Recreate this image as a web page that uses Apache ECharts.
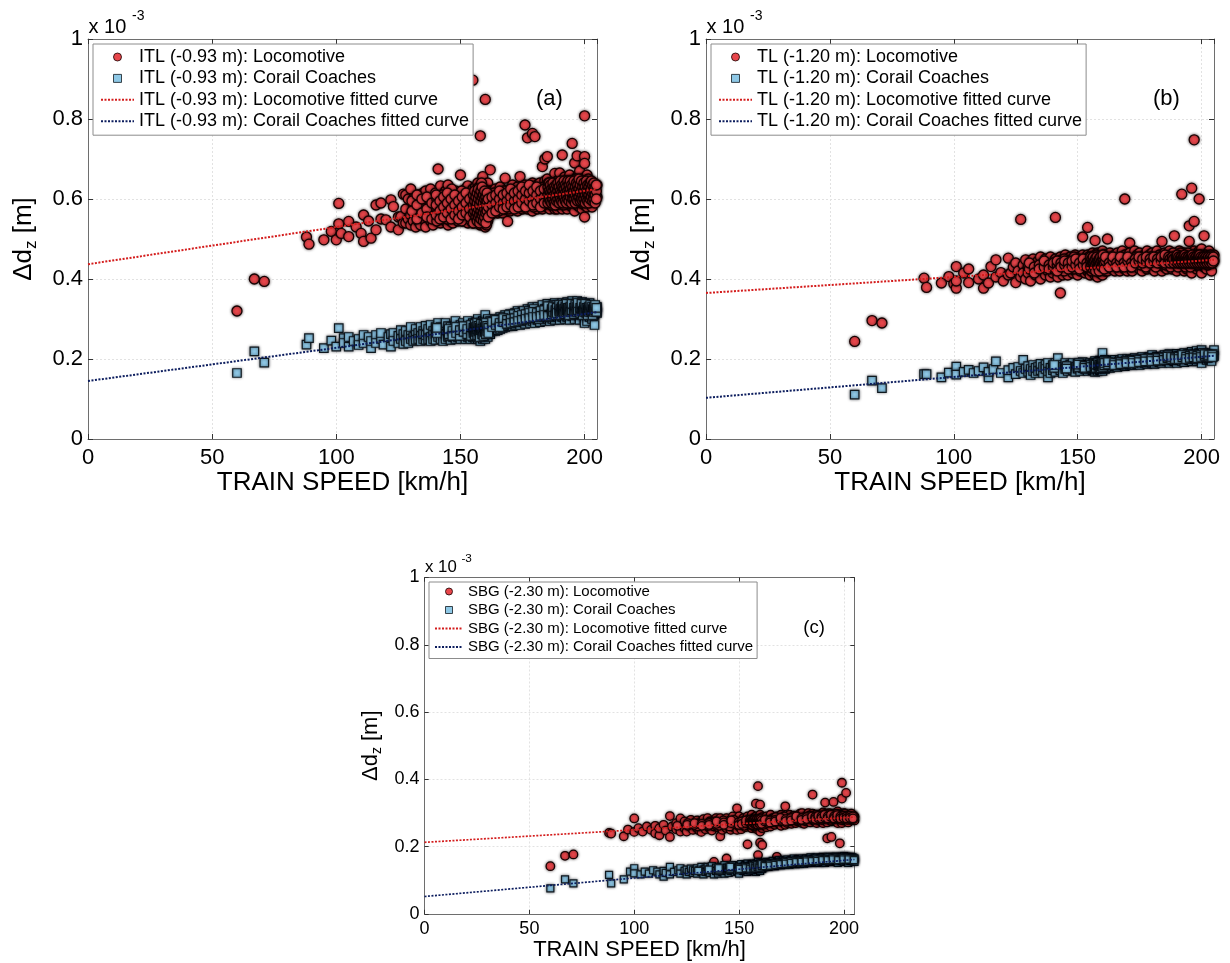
<!DOCTYPE html>
<html><head><meta charset="utf-8">
<script src="https://cdn.jsdelivr.net/npm/echarts@6/dist/echarts.min.js"></script>
<style>html,body{margin:0;padding:0;background:#fff}#c{width:1230px;height:963px}</style>
</head><body><div id="c"></div>
<script>
// Δd_z values in units of 1e-3 m (axis shows "x 10^-3"); speeds in km/h
// rows: [speed, value, value, ...]
const xTicks = [0, 50, 100, 150, 200];
const yTicks = [0, 0.2, 0.4, 0.6, 0.8, 1];

const itlLocoRows = [
[60,.32],[67,.40],[71,.394],[88,.505],[89,.487],[95,.498],[98,.519],[100,.498],[101,.589,.538],[102,.514],
[105,.544,.506],[108,.53],[110,.514],[111,.494,.56],[113,.545],[114,.502],[116,.585,.523],[118,.59,.55],[120,.548],
[122,.598,.53],[123,.581],[125,.523,.555],[126,.556],[127,.612,.54],
[128,.61,.575,.54],[129,.55,.60],[130,.625,.56,.535],[131,.585,.545,.60],[132,.57,.53,.595],[133,.56,.61,.545],
[134,.58,.535,.595],[135,.57,.615,.55],[136,.62,.545,.585,.53],[137,.56,.60,.575],[138,.545,.59,.625,.565],
[139,.58,.535,.60],[140,.565,.615,.55,.59],[141,.675,.585,.545,.60],[142,.633,.57,.54,.595],[143,.58,.605,.555],
[144,.545,.59,.62,.565],[145,.635,.575,.535,.60],[146,.56,.59,.615,.545],[147,.58,.60,.54,.565],[148,.595,.555,.62,.575],
[149,.57,.61,.545,.59],[150,.66,.58,.55,.60,.565],[151,.59,.615,.545,.57],[152,.575,.60,.55,.625],[153,.633,.56,.59,.54,.605],
[154,.58,.615,.555,.595],[155,.897,.57,.60,.54,.625,.585],[156,.56,.595,.61,.545,.575,.63],[157,.585,.55,.62,.57,.60,.54,.64],
[158,.758,.57,.605,.545,.59,.625,.56,.535],[159,.656,.58,.55,.615,.595,.565,.63,.54],[160,.849,.575,.60,.545,.625,.56,.59,.53,.61],
[161,.585,.565,.62,.545,.60,.64],[162,.673,.58,.60,.56,.62],[163,.59,.565,.61,.58],[164,.57,.60,.625,.585],
[165,.595,.565,.615,.58],[166,.60,.575,.63,.59],[167,.585,.61,.565,.60],[168,.652,.59,.62,.575],[169,.544,.60,.58,.615],
[170,.595,.57,.625,.61],[171,.58,.605,.59,.635],[172,.60,.575,.62,.59],[173,.61,.585,.63,.57],[174,.656,.595,.615,.58],
[175,.60,.575,.625,.59],[176,.785,.61,.585,.635],[177,.753,.595,.62,.575],[178,.605,.58,.63,.615],[179,.764,.59,.615,.57,.64],
[180,.756,.60,.625,.585,.61],[181,.595,.635,.575,.615],[182,.61,.585,.64,.60],[183,.681,.595,.625,.575],[184,.70,.615,.59,.645,.60],
[185,.706,.60,.625,.58,.65],[186,.61,.59,.635,.575,.62],[187,.60,.64,.585,.615],[188,.664,.595,.625,.575,.605],
[189,.615,.59,.645,.60,.575],[190,.665,.60,.63,.585,.615],[191,.71,.595,.62,.575,.64,.605],[192,.61,.585,.635,.60,.655],
[193,.62,.595,.575,.645,.605],[194,.605,.63,.585,.615,.66],[195,.739,.60,.625,.58,.645,.61],[196,.69,.615,.59,.635,.57,.60],
[197,.708,.605,.625,.585,.655,.615],[198,.62,.595,.64,.58,.61,.67],[199,.605,.63,.59,.65,.575,.615],
[200,.808,.706,.689,.555,.62,.60,.64,.585,.61],[201,.615,.595,.635,.58,.66],[202,.60,.625,.59,.645,.61],
[203,.62,.60,.58,.635],[204,.61,.595,.63],[205,.635,.605]
];
const itlLocoDense = [
[130.5,.57,.595],[132.5,.55,.585,.61],[134.5,.565,.60],[136.5,.575,.555,.605],[138.5,.59,.55],[140.5,.575,.60,.545],
[142.5,.56,.585,.61],[144.5,.575,.60,.55],[146.5,.57,.595,.625],[148.5,.585,.56,.605],[150.5,.575,.595,.545,.62],
[152.5,.565,.585,.61],[154.5,.57,.59,.605,.545],[155.5,.58,.555,.61,.595],[156.5,.565,.59,.62,.545],[157.5,.575,.60,.555,.63],
[158.5,.58,.61,.55,.595,.64],[159.5,.57,.60,.545,.625,.585],[160.5,.58,.555,.615,.595,.535],[161.5,.57,.61,.59],
[163.5,.595,.575,.615],[165.5,.585,.605,.57],[167.5,.595,.62,.58],[169.5,.59,.61,.575],[171.5,.595,.615,.58],
[173.5,.60,.62,.585],[175.5,.595,.615,.58],[177.5,.60,.625,.59],[179.5,.605,.58,.63],[181.5,.60,.62,.59],
[183.5,.61,.585,.63],[185.5,.595,.615,.64],[186.5,.605,.625,.585],[187.5,.62,.595,.635],[188.5,.61,.585,.63],
[189.5,.60,.625,.59],[190.5,.615,.64,.595],[191.5,.605,.63,.585],[192.5,.62,.60,.645],[193.5,.61,.59,.635],
[194.5,.625,.60,.645],[195.5,.615,.595,.635],[196.5,.605,.625,.65],[197.5,.62,.60,.64],[198.5,.61,.63,.59],
[199.5,.625,.60,.645],[200.5,.615,.595,.635],[201.5,.605,.625,.65],[202.5,.615,.595,.635],[203.5,.61,.625],[204.5,.62,.60]
];
const itlLocoCore = [
[140.25,.56,.585,.61],[141.75,.57,.595,.55],[143.25,.58,.555,.605],[144.75,.565,.59,.615],[146.25,.575,.55,.60],
[147.75,.585,.56,.61],[149.25,.57,.595,.55],[150.75,.58,.605,.56],[152.25,.59,.565,.615],[153.75,.575,.60,.555],
[155.25,.585,.61,.565,.54],[155.75,.57,.595,.62],[156.25,.58,.555,.605],[156.75,.59,.565,.615,.545],[157.25,.575,.60,.555,.625],
[157.75,.585,.56,.61,.54],[158.25,.57,.595,.62,.55],[158.75,.58,.605,.56,.63],[159.25,.59,.565,.61,.545],[159.75,.575,.60,.555,.62],
[160.25,.585,.565,.605,.54],[160.75,.57,.595,.615],[161.25,.58,.555,.60],[162.75,.585,.605,.565],[164.25,.59,.57,.61],
[165.75,.58,.60,.62],[167.25,.59,.575,.61],[168.75,.595,.615,.58],[170.25,.585,.605,.625],[171.75,.595,.575,.615],
[173.25,.60,.58,.62],[174.75,.59,.61,.63],[176.25,.60,.58,.62],[177.75,.595,.615,.635],[179.25,.60,.585,.62],
[180.75,.61,.59,.63],[182.25,.60,.62,.58],[183.75,.605,.625,.59],[185.25,.61,.59,.63],[185.75,.60,.62,.64],
[186.25,.595,.615,.635],[186.75,.61,.59,.625],[187.25,.60,.62,.64],[187.75,.59,.61,.63],[188.25,.605,.625,.585],
[188.75,.615,.595,.635],[189.25,.60,.62,.64],[189.75,.61,.59,.63],[190.25,.60,.62,.645],[190.75,.595,.615,.635],
[191.25,.61,.63,.59],[191.75,.605,.625,.645],[192.25,.595,.615,.635],[192.75,.61,.63,.59],[193.25,.60,.62,.645],
[193.75,.615,.595,.635],[194.25,.605,.625,.645],[194.75,.59,.615,.635],[195.25,.61,.63,.60],[195.75,.62,.60,.645],
[196.25,.61,.63,.59],[196.75,.60,.62,.64],[197.25,.615,.595,.635],[197.75,.605,.625,.65],[198.25,.615,.595,.635],
[198.75,.60,.62,.645],[199.25,.61,.63,.595],[199.75,.62,.60,.64],[200.25,.61,.63,.59],[200.75,.60,.62,.645],
[201.25,.615,.635,.595],[201.75,.61,.63,.59],[202.25,.62,.60,.64],[202.75,.605,.625,.645],[203.25,.615,.595,.635],
[203.75,.60,.62,.64],[204.25,.61,.63,.59],[204.75,.62,.60,.635]
];
const itlCoachRows = [
[60,.165],[67,.219],[71,.191],[88,.236],[89,.252],[95,.227],[98,.246],[100,.231],[101,.277],[103,.252,.24],
[105,.231,.255],[107,.245],[109,.25,.235],[111,.24,.26],[113,.255],[114,.227,.245],[116,.26,.24],[118,.25,.265],
[119,.236],[121,.255],[122,.231,.262],[123,.265,.245],[125,.24,.258],[126,.25,.272],[127,.262,.238],
[128,.255,.27,.245],[129,.26,.24],[130,.268,.25,.28],[131,.255,.245],[132,.275,.26,.248],[133,.265,.25],
[134,.258,.28,.245],[135,.27,.25,.262],[136,.248,.283,.26],[137,.265,.25,.275],[138,.255,.285,.245],[139,.27,.26,.25],
[140,.262,.28,.248],[141,.255,.272,.29],[142,.265,.25,.28],[143,.275,.258,.245],[144,.262,.29,.25],[145,.27,.255,.282],
[146,.26,.28,.248],[147,.272,.255,.265],[148,.295,.26,.25,.28],[149,.265,.275,.255],[150,.26,.285,.25,.27],
[151,.275,.258,.29],[152,.265,.25,.28],[153,.27,.255,.295,.262],[154,.28,.26,.25],[155,.265,.29,.255,.275],
[156,.27,.25,.285,.26],[157,.30,.26,.275,.25,.285],[158,.265,.29,.255,.278,.245],[159,.272,.25,.295,.262,.285],
[160,.31,.26,.28,.25,.27,.29],[161,.275,.255,.30,.265],[162,.28,.262,.295],[163,.27,.29,.28],[164,.285,.27,.30],
[165,.28,.295,.272],[166,.29,.275,.305],[167,.285,.30,.278],[168,.295,.28,.31],[169,.29,.302,.282],[170,.30,.285,.312],
[171,.29,.305,.282],[172,.298,.315,.285],[173,.305,.29,.32],[174,.295,.31,.285],[175,.305,.292,.318],[176,.30,.315,.288],
[177,.31,.295,.325],[178,.302,.32,.29],[179,.31,.295,.33],[180,.305,.322,.29],[181,.312,.298,.33],[182,.305,.32,.292],
[183,.315,.30,.335],[184,.308,.325,.295],[185,.318,.30,.338,.31],[186,.305,.322,.295],[187,.315,.33,.30],
[188,.31,.325,.298,.34],[189,.32,.305,.335],[190,.31,.328,.298],[191,.322,.305,.34,.315],[192,.312,.33,.30],
[193,.325,.305,.342,.315],[194,.31,.33,.298],[195,.322,.308,.345,.315],[196,.315,.335,.30],[197,.328,.31,.345,.32],
[198,.305,.325,.338,.298],[199,.32,.31,.342,.33],[200,.315,.30,.335,.325,.29],[201,.31,.33,.32,.295],
[202,.325,.305,.34],[203,.315,.30,.33],[204,.32,.31,.285],[205,.33,.315]
];
const itlCoachDense = [
[140.5,.265,.278],[145.5,.268,.258],[149.5,.27,.26,.28],[151.5,.265,.275],[153.5,.26,.28],[154.5,.27,.285],
[155.5,.262,.278],[156.5,.275,.255,.29],[157.5,.268,.282],[158.5,.26,.275,.29],[159.5,.27,.285,.258],[160.5,.275,.262,.29],
[161.5,.28,.268],[163.5,.282,.295],[165.5,.288,.30],[167.5,.29,.305],[169.5,.295,.31],[171.5,.298,.312],[173.5,.30,.315],
[175.5,.305,.32],[177.5,.308,.32],[179.5,.31,.325],[181.5,.315,.30],[183.5,.318,.305],[185.5,.315,.33,.305],
[186.5,.32,.31],[187.5,.318,.335],[188.5,.31,.325],[189.5,.322,.312],[190.5,.318,.335],[191.5,.31,.325],
[192.5,.322,.338],[193.5,.315,.33],[194.5,.322,.312],[195.5,.33,.318],[196.5,.325,.31],[197.5,.335,.318],
[198.5,.32,.33],[199.5,.315,.328],[200.5,.325,.31],[201.5,.32,.335],[202.5,.315,.328],[203.5,.322,.31],[204.5,.318,.33]
];
const itlCoachCore = [
[145.25,.262,.275],[146.75,.27,.258],[148.25,.265,.28],[149.75,.258,.272],[151.25,.268,.282],[152.75,.262,.275],
[154.25,.27,.258,.285],[155.25,.265,.278],[155.75,.272,.26,.288],[156.25,.268,.28],[156.75,.26,.275,.29],[157.25,.27,.283],
[157.75,.265,.278,.255],[158.25,.272,.288],[158.75,.262,.276],[159.25,.27,.285,.258],[159.75,.268,.28],[160.25,.275,.262,.29],
[160.75,.27,.283],[161.25,.278,.265],[162.75,.28,.293],[164.25,.285,.298],[165.75,.29,.28],[167.25,.292,.302],
[168.75,.298,.288],[170.25,.30,.29],[171.75,.302,.292],[173.25,.308,.295],[174.75,.31,.298],[176.25,.312,.30],
[177.75,.315,.302],[179.25,.318,.305],[180.75,.315,.305],[182.25,.32,.308],[183.75,.322,.31],[185.25,.32,.308,.332],
[186.75,.325,.312],[187.25,.318,.33],[188.25,.322,.31],[188.75,.328,.315],[189.75,.32,.335],[190.25,.325,.31],
[190.75,.33,.318],[191.25,.32,.335],[191.75,.325,.312],[192.25,.33,.318],[192.75,.322,.338],[193.25,.315,.328],
[193.75,.325,.31],[194.25,.33,.318],[194.75,.322,.338],[195.75,.328,.312],[196.25,.32,.335],[196.75,.33,.318],
[197.25,.322,.34],[198.25,.315,.328],[198.75,.325,.338],[199.25,.32,.31],[199.75,.33,.318],[200.25,.322,.338],
[200.75,.315,.328],[201.25,.325,.31],[201.75,.33,.318],[202.25,.322,.335],[202.75,.318,.33],[203.25,.325,.31],
[203.75,.33,.318],[204.25,.322,.335],[204.75,.318,.328]
];
const tlLocoRows = [
[60,.244],[67,.296],[71,.29],[88,.402],[89,.379],[95,.39],[98,.406],[100,.388],[101,.431,.377,.395],[104,.415],
[106,.391,.425],[110,.40],[112,.377,.41],[114,.39],[115,.431],[117,.448,.405],[119,.416],[120,.395],[122,.452,.41],
[123,.415],[124,.43],[125,.391,.44],[126,.42],[127,.549,.405],[128,.435,.415],[129,.448,.40],[130,.43,.415],
[131,.44,.395],[132,.425,.45],[133,.41,.435],[134,.445,.42],[135,.40,.43,.455],[136,.42,.44],[137,.435,.41,.45],
[138,.42,.445],[139,.43,.405,.455],[140,.415,.44],[141,.554,.43,.45],[142,.42,.44,.405],[143,.365,.435,.455],
[144,.425,.445,.41],[145,.435,.42,.46],[146,.44,.41,.45],[147,.425,.455,.435],[148,.415,.445,.43],[149,.44,.42,.46],
[150,.43,.45,.41,.44],[151,.42,.455,.435],[152,.505,.44,.425,.46],[153,.43,.45,.415],[154,.529,.44,.42,.46],
[155,.425,.45,.435,.41],[156,.445,.42,.465,.43],[157,.496,.435,.41,.455,.44],[158,.42,.45,.43,.465,.405],
[159,.44,.415,.46,.43,.45],[160,.425,.455,.44,.41,.47,.435],[161,.445,.42,.46,.43],[162,.50,.435,.455,.42],
[163,.445,.43,.465],[164,.425,.45,.44],[165,.435,.46,.42],[166,.45,.43,.465],[167,.44,.42,.455],[168,.43,.45,.47],
[169,.60,.44,.425,.46],[170,.435,.455,.42],[171,.49,.445,.43,.465],[172,.44,.42,.455],[173,.45,.435,.47],
[174,.43,.46,.44],[175,.445,.425,.465],[176,.44,.455,.42],[177,.46,.435,.45],[178,.425,.445,.47],[179,.45,.43,.46],
[180,.44,.465,.425,.455],[181,.435,.45,.42],[182,.455,.44,.47],[183,.43,.46,.445],[184,.494,.44,.42,.455],
[185,.45,.43,.465],[186,.44,.46,.425],[187,.455,.435,.47],[188,.445,.425,.46],[189,.508,.44,.455,.43],
[190,.45,.465,.42,.44],[191,.435,.455,.47],[192,.612,.445,.43,.46],[193,.45,.42,.465,.44],[194,.435,.455,.425],
[195,.533,.494,.46,.44,.45],[196,.627,.43,.465,.445,.415],[197,.748,.544,.45,.435,.47],[198,.44,.46,.425,.455],
[199,.60,.445,.43,.47],[200,.45,.435,.46,.415,.475],[201,.508,.44,.455,.43],[202,.46,.445,.425],[203,.435,.455,.47],
[204,.45,.44,.42],[205,.46,.445]
];
const tlLocoDense = [
[130.5,.425,.44],[132.5,.43,.415],[134.5,.435,.425],[136.5,.43,.445],[138.5,.435,.425],[140.5,.44,.425],
[142.5,.43,.445],[144.5,.435,.42,.45],[146.5,.43,.445],[148.5,.44,.425,.455],[150.5,.435,.45],[152.5,.43,.445],
[154.5,.44,.425,.455],[155.5,.435,.45,.42],[156.5,.44,.43,.455],[157.5,.445,.425,.46],[158.5,.435,.45,.42],
[159.5,.44,.455,.43],[160.5,.445,.43,.46],[161.5,.435,.45],[163.5,.44,.455],[165.5,.445,.43],[167.5,.44,.455],
[169.5,.435,.45],[171.5,.445,.43],[173.5,.44,.455],[175.5,.435,.45],[177.5,.445,.43],[179.5,.44,.455],
[181.5,.445,.43],[183.5,.44,.455],[185.5,.45,.435],[186.5,.44,.455],[187.5,.445,.43],[188.5,.45,.465],
[189.5,.44,.455],[190.5,.445,.43],[191.5,.45,.465],[192.5,.44,.455],[193.5,.445,.43],[194.5,.45,.465],
[195.5,.445,.43],[196.5,.455,.44],[197.5,.445,.46],[198.5,.45,.435],[199.5,.445,.46],[200.5,.455,.44],
[201.5,.445,.46],[202.5,.45,.435],[203.5,.445,.46],[204.5,.45,.44]
];
const tlLocoCore = [
[140.25,.43,.44],[141.75,.435,.445,.42],[143.25,.44,.43],[144.75,.435,.445],[146.25,.44,.425],[147.75,.43,.445],
[149.25,.435,.45],[150.75,.44,.425],[152.25,.435,.45],[153.75,.44,.43],[155.25,.445,.43,.455],[155.75,.435,.45],
[156.25,.44,.425,.455],[156.75,.445,.43],[157.25,.435,.45,.42],[157.75,.44,.455],[158.25,.445,.43],[158.75,.435,.45,.42],
[159.25,.44,.455],[159.75,.445,.43],[160.25,.435,.45,.46],[160.75,.44,.425],[161.25,.445,.455],[162.75,.44,.43],
[164.25,.445,.455],[165.75,.44,.43],[167.25,.445,.455],[168.75,.44,.43],[170.25,.445,.455],[171.75,.44,.43],
[173.25,.45,.44],[174.75,.445,.455],[176.25,.44,.45],[177.75,.445,.455],[179.25,.45,.44],[180.75,.445,.455],
[182.25,.45,.44],[183.75,.445,.455],[185.25,.45,.44,.46],[186.75,.445,.455],[187.25,.45,.44],[188.25,.455,.445],
[188.75,.44,.45],[189.75,.455,.445],[190.25,.45,.44,.46],[190.75,.445,.455],[191.25,.45,.44],[191.75,.455,.445],
[192.25,.44,.45],[192.75,.455,.445],[193.25,.45,.44,.46],[193.75,.445,.455],[194.25,.45,.44],[194.75,.455,.445],
[195.25,.44,.45],[195.75,.455,.445],[196.25,.45,.44,.46],[196.75,.445,.455],[197.25,.45,.44],[197.75,.455,.445],
[198.25,.44,.45],[198.75,.455,.445],[199.25,.45,.44,.46],[199.75,.445,.455],[200.25,.45,.44],[200.75,.455,.445],
[201.25,.44,.45],[201.75,.455,.445],[202.25,.45,.44],[202.75,.445,.455],[203.25,.45,.44],[203.75,.455,.445],
[204.25,.44,.45],[204.75,.455,.445]
];
const tlCoachRows = [
[60,.111],[67,.146],[71,.127],[88,.162],[89,.162],[95,.154],[98,.166],[101,.181,.161],[104,.168],[106,.173],
[108,.165],[110,.17],[112,.179],[114,.154,.168],[116,.175],[117,.194],[119,.165],[122,.154,.172],[124,.178],
[125,.162],[126,.18],[127,.17],[128,.198,.165],[129,.175],[130,.168,.182],[131,.175,.16],[132,.185,.17],
[133,.165,.178],[134,.18,.17],[135,.172,.188],[136,.165,.18],[137,.185,.175],[138,.154,.17,.19],[139,.178,.165],
[140,.185,.172],[141,.168,.19],[142,.202,.178],[143,.172,.185],[144,.18,.165],[145,.19,.175],[146,.17,.183],
[147,.186,.176],[148,.172,.19],[149,.18,.168],[150,.188,.176],[151,.17,.185],[152,.192,.178],[153,.175,.186],
[154,.182,.17],[155,.19,.178],[156,.172,.186],[157,.195,.18,.168],[158,.178,.19,.17],[159,.185,.172,.196],
[160,.215,.18,.19,.17],[161,.186,.175,.198],[162,.18,.192],[163,.188,.178],[164,.195,.183],[165,.186,.198],
[166,.19,.18],[167,.197,.186],[168,.185,.20],[169,.192,.182],[170,.20,.188],[171,.186,.197],[172,.195,.185],
[173,.202,.19],[174,.188,.198],[175,.196,.185],[176,.205,.192],[177,.19,.20],[178,.198,.188],[179,.205,.193],
[180,.19,.20,.21],[181,.197,.188],[182,.206,.195],[183,.192,.203],[184,.20,.19],[185,.21,.197],[186,.195,.205],
[187,.202,.19,.212],[188,.197,.207],[189,.205,.194],[190,.20,.213,.19],[191,.207,.197],[192,.195,.21],
[193,.203,.215,.192],[194,.20,.209],[195,.212,.197],[196,.205,.218,.194],[197,.20,.21],[198,.208,.195,.22],
[199,.202,.215],[200,.21,.198,.222,.19],[201,.205,.215],[202,.198,.21],[203,.213,.20],[204,.205,.195],[205,.222,.208]
];
const tlCoachDense = [
[140.5,.178,.185],[145.5,.182,.176],[150.5,.18,.19],[153.5,.182,.175],[155.5,.185,.178],[156.5,.18,.19],
[157.5,.186,.176],[158.5,.182,.192],[159.5,.178,.188],[160.5,.185,.195],[161.5,.18,.19],[163.5,.19,.185],
[166.5,.192,.186],[169.5,.195,.188],[172.5,.198,.19],[175.5,.20,.192],[178.5,.202,.195],[181.5,.203,.196],
[184.5,.205,.198],[186.5,.20,.21],[188.5,.203,.198],[190.5,.206,.20],[192.5,.208,.20],[194.5,.205,.212],
[196.5,.21,.20],[198.5,.212,.204],[200.5,.208,.215],[202.5,.21,.203],[204.5,.212,.205]
];
const tlCoachCore = [
[150.25,.18,.186],[152.75,.183,.178],[155.25,.185,.18],[156.75,.182,.188],[157.25,.178,.186],[158.25,.184,.19],
[158.75,.18,.186],[159.25,.186,.178],[159.75,.182,.19],[160.25,.188,.18],[160.75,.184,.19],[162.25,.186,.192],
[164.75,.19,.185],[167.25,.192,.187],[169.75,.194,.19],[172.25,.196,.19],[174.75,.198,.192],[177.25,.20,.194],
[179.75,.20,.195],[182.25,.202,.196],[184.75,.204,.198],[186.25,.202,.206],[187.75,.20,.205],[189.25,.204,.20],
[190.75,.206,.20],[192.25,.204,.21],[193.75,.206,.20],[195.25,.208,.203],[196.75,.21,.204],[198.25,.208,.202],
[199.75,.21,.205],[201.25,.208,.212],[202.75,.206,.21],[204.25,.21,.205]
];
const sbgLocoRows = [
[60,.142],[67,.173],[71,.177],[88,.241],[89,.239],[95,.231],[97,.251],[100,.284,.244],[102,.255],[104,.245],
[106,.26],[108,.25],[110,.262,.24],[112,.234,.255],[114,.265],[115,.248],[117,.291,.229],[118,.26],[120,.252,.27],
[122,.284,.245],[123,.262],[124,.255,.275],[125,.245],[126,.268],[127,.258,.28],[128,.25],[129,.272,.262],
[130,.255,.278],[131,.265,.248],[132,.244,.275],[133,.26,.282],[134,.27,.252],[135,.262,.285],[136,.255,.275],
[137,.268,.248],[138,.155,.278,.26],[139,.27,.285],[140,.258,.275],[141,.231,.268,.285],[142,.26,.25],
[143,.275,.265],[144,.165,.285,.255],[145,.27,.26],[146,.28,.25],[147,.265,.29],[148,.255,.275],[149,.314,.268,.25],
[150,.28,.26,.29],[151,.27,.252],[152,.285,.265],[153,.258,.278],[154,.207,.27,.29],[155,.262,.28],
[156,.272,.255,.295],[157,.265,.285],[158,.328,.255,.275,.29],[159,.38,.175,.268,.25,.285],
[160,.325,.212,.275,.26,.295,.245],[161,.205,.27,.288,.255],[162,.265,.28],[163,.275,.258,.29],[164,.268,.282],
[165,.26,.278,.295],[166,.272,.285],[167,.265,.28],[168,.17,.275,.29],[169,.268,.285],[170,.28,.262,.295],
[171,.272,.288],[172,.32,.265,.28],[173,.285,.27],[174,.275,.295],[175,.268,.285],[176,.28,.292],[177,.27,.288],
[178,.285,.275],[179,.278,.298],[180,.27,.285,.30],[181,.282,.268],[182,.29,.275],[183,.28,.30],[184,.272,.288],
[185,.355,.282,.298],[186,.275,.29],[187,.285,.27],[188,.295,.28],[189,.275,.29],[190,.285,.302,.27],
[191,.331,.28,.295],[192,.225,.29,.272],[193,.282,.30],[194,.229,.29,.275],[195,.333,.283,.298],[196,.275,.29],
[197,.288,.27,.305],[198,.21,.28,.295],[199,.39,.343,.285,.27],[200,.29,.278,.30],[201,.36,.282,.295],
[202,.288,.272],[203,.295,.28],[204,.294,.285],[205,.29,.278]
];
const sbgLocoDense = [
[120.5,.262],[125.5,.262,.27],[130.5,.268,.26],[135.5,.27,.262],[138.5,.265,.275],[140.5,.27,.262],[142.5,.268,.278],
[145.5,.272,.26],[147.5,.268,.28],[150.5,.272,.265],[152.5,.275,.262],[154.5,.27,.28],[155.5,.275,.265],
[156.5,.27,.28],[157.5,.275,.262],[158.5,.27,.282],[159.5,.276,.265],[160.5,.28,.27],[161.5,.275,.265],
[163.5,.278,.27],[165.5,.28,.272],[167.5,.278,.288],[169.5,.282,.275],[171.5,.28,.29],[173.5,.282,.275],
[175.5,.285,.278],[177.5,.28,.29],[179.5,.285,.278],[181.5,.288,.28],[183.5,.285,.292],[185.5,.288,.28],
[186.5,.285,.295],[187.5,.29,.28],[188.5,.285,.292],[189.5,.288,.28],[190.5,.292,.283],[191.5,.288,.298],
[192.5,.285,.292],[193.5,.29,.28],[194.5,.285,.295],[195.5,.29,.282],[196.5,.288,.298],[197.5,.285,.292],
[198.5,.29,.28],[199.5,.295,.285],[200.5,.288,.298],[201.5,.29,.28],[202.5,.292,.285],[203.5,.288,.298],[204.5,.29,.282]
];
const sbgLocoCore = [
[125.25,.265],[128.75,.265,.27],[132.25,.268,.262],[135.75,.27,.265],[139.25,.268,.275],[142.75,.272,.265],
[146.25,.27,.278],[149.75,.272,.265],[151.25,.275,.268],[153.25,.27,.278],[155.25,.273,.28],[155.75,.268,.276],
[156.25,.275,.265],[156.75,.278,.27],[157.25,.272,.28],[157.75,.276,.268],[158.25,.272,.28],[158.75,.275,.266],
[159.25,.272,.28],[159.75,.276,.268],[160.25,.272,.282],[160.75,.278,.268],[162.25,.275,.28],[164.75,.278,.272],
[167.25,.28,.275],[169.75,.28,.286],[172.25,.282,.276],[174.75,.285,.278],[177.25,.283,.29],[179.75,.285,.28],
[182.25,.288,.282],[184.75,.285,.29],[186.25,.288,.282],[187.75,.285,.292],[189.25,.29,.284],[190.75,.287,.295],
[192.25,.29,.284],[193.75,.288,.295],[195.25,.29,.284],[196.75,.287,.294],[198.25,.29,.284],[199.75,.292,.286],
[201.25,.29,.284],[202.75,.292,.286],[204.25,.29,.284]
];
const sbgCoachRows = [
[60,.076],[67,.103],[71,.091],[88,.116],[89,.091],[95,.103],[98,.126],[100,.136,.121],[103,.118],[105,.126],
[107,.12],[109,.13],[111,.126],[112,.118],[114,.111,.128],[115,.122],[117,.14,.118],[119,.125],[121,.13],
[122,.136,.12],[124,.128],[125,.118,.132],[126,.125],[127,.135],[128,.122,.13],[129,.128],[130,.12,.136],
[131,.13],[132,.125,.14],[133,.118,.132],[134,.135,.125],[135,.128,.14],[136,.122,.135],[137,.13,.142],
[138,.125,.118],[139,.138,.128],[140,.132,.12],[141,.14,.127],[142,.125,.135],[143,.133,.12,.145],[144,.128,.138],
[145,.122,.135],[146,.14,.128],[147,.132,.145],[148,.125,.138],[149,.135,.128],[150,.142,.13,.12],[151,.135,.148],
[152,.128,.14],[153,.145,.132],[154,.138,.125,.15],[155,.142,.13],[156,.135,.148],[157,.13,.145,.14],
[158,.15,.135,.125],[159,.142,.155,.132],[160,.138,.15,.128,.145],[161,.145,.135],[162,.15,.14],[163,.145,.155],
[164,.14,.15],[165,.152,.145],[166,.145,.158],[167,.15,.142],[168,.155,.147],[169,.148,.16],[170,.155,.145],
[171,.15,.16],[172,.158,.148],[173,.152,.162],[174,.147,.157],[175,.16,.15],[176,.153,.165],[177,.158,.148],
[178,.152,.163],[179,.16,.15],[180,.155,.165],[181,.16,.15],[182,.165,.155],[183,.152,.162],[184,.158,.168],
[185,.162,.152],[186,.155,.165],[187,.168,.158],[188,.16,.152],[189,.165,.157],[190,.155,.17,.16],[191,.162,.152],
[192,.168,.158],[193,.155,.165],[194,.16,.17],[195,.165,.155],[196,.158,.17,.162],[197,.165,.152],[198,.17,.16],
[199,.158,.168],[200,.165,.155,.172],[201,.16,.17],[202,.165,.152],[203,.17,.158],[204,.162,.168],[205,.165,.155]
];
const sbgCoachDense = [
[130.5,.128],[135.5,.132],[140.5,.135,.128],[145.5,.132,.14],[150.5,.138,.13],[152.5,.14,.132],[154.5,.142,.135],
[155.5,.138,.13],[156.5,.142,.135],[157.5,.138,.148],[158.5,.142,.135],[159.5,.145,.138],[160.5,.14,.135],
[161.5,.148,.14],[163.5,.15,.145],[166.5,.152,.148],[169.5,.155,.15],[172.5,.155,.152],[175.5,.158,.155],
[178.5,.16,.155],[181.5,.16,.155],[184.5,.162,.158],[186.5,.16,.165],[188.5,.162,.158],[190.5,.165,.16],
[192.5,.162,.168],[194.5,.165,.16],[196.5,.163,.168],[198.5,.165,.16],[200.5,.168,.162],[202.5,.165,.16],[204.5,.165,.16]
];
const sbgCoachCore = [
[140.25,.132,.136],[145.75,.135,.14],[150.25,.138,.134],[153.25,.14,.136],[155.25,.14,.135],[156.75,.138,.144],
[157.75,.142,.136],[158.75,.14,.146],[159.75,.144,.138],[160.75,.142,.148],[162.25,.146,.142],[164.75,.148,.144],
[167.25,.15,.146],[169.75,.152,.148],[172.25,.155,.15],[174.75,.156,.152],[177.25,.158,.154],[179.75,.158,.155],
[182.25,.16,.156],[184.75,.16,.157],[187.25,.162,.158],[189.75,.164,.16],[192.25,.163,.16],[194.75,.165,.162],
[197.25,.164,.16],[199.75,.166,.162],[202.25,.165,.162],[204.75,.164,.16]
];
// fitted curves: [speed, value]
const itlLocoFit  = [[0,.437],[100,.53],[205,.625]];
const itlCoachFit = [[0,.145],[100,.228],[205,.317]];
const tlLocoFit   = [[0,.365],[100,.405],[205,.448]];
const tlCoachFit  = [[0,.103],[100,.155],[205,.208]];
const sbgLocoFit  = [[0,.213],[100,.25],[205,.288]];
const sbgCoachFit = [[0,.052],[100,.107],[205,.162]];

const panelTags = ['ITL (-0.93 m)', 'TL (-1.20 m)', 'SBG (-2.30 m)'];
const panelLetters = ['(a)', '(b)', '(c)'];
const seriesSuffix = ['Locomotive', 'Corail Coaches', 'Locomotive fitted curve', 'Corail Coaches fitted curve'];

const pts = rows => rows.flatMap(r => r.slice(1).map(v => [r[0], v]));
const FONT = "'Liberation Sans', Arial, Helvetica, sans-serif";

const RED = '#e8464b', RED_EDGE = '#160303';
const BLUE = '#8ec8e6', BLUE_EDGE = '#10191f';
const RED_LINE = '#d41c1c', NAVY_LINE = '#0c1d5e';

const panels = [
  {g:{left:88, top:39, width:509, height:400}, s:1,
   loco:[itlLocoRows, itlLocoDense, itlLocoCore], coach:[itlCoachRows, itlCoachDense, itlCoachCore],
   lf:itlLocoFit, cf:itlCoachFit, leg:{left:93, top:44}},
  {g:{left:706, top:39, width:508, height:400}, s:1,
   loco:[tlLocoRows, tlLocoDense, tlLocoCore], coach:[tlCoachRows, tlCoachDense, tlCoachCore],
   lf:tlLocoFit, cf:tlCoachFit, leg:{left:711, top:44}},
  {g:{left:424.5, top:577.5, width:430, height:336.5}, s:0.84,
   loco:[sbgLocoRows, sbgLocoDense, sbgLocoCore], coach:[sbgCoachRows, sbgCoachDense, sbgCoachCore],
   lf:sbgLocoFit, cf:sbgCoachFit, leg:{left:429, top:582}}
];

const grid = [], xAxis = [], yAxis = [], series = [], legend = [], graphic = [];
panels.forEach((p, i) => {
  const s = p.s;
  grid.push(Object.assign({containLabel:false}, p.g));
  const tickFs = i === 2 ? 18 : 22;
  const titleFs = i === 2 ? 22 : 26;
  const axLine = {show:true, onZero:false, lineStyle:{color:'#6e6e6e', width:1}};
  const tick = {show:true, inside:true, length:5*s, lineStyle:{color:'#333'}};
  const split = {show:true, lineStyle:{color:'#e2e2e2', type:[2,2], width:1}};
  xAxis.push({type:'value', gridIndex:i, min:0, max:205, interval:50, position:'bottom',
    axisLine:axLine, axisTick:tick, splitLine:split,
    axisLabel:{color:'#000', fontSize:tickFs, fontFamily:FONT, margin:i===2?6:8, showMaxLabel:false,
      formatter: v => xTicks.includes(v) ? String(v) : ''},
    name:'TRAIN SPEED [km/h]', nameLocation:'middle', nameGap:i===2?24:21,
    nameTextStyle:{color:'#000', fontSize:titleFs, fontFamily:FONT}});
  xAxis.push({type:'value', gridIndex:i, min:0, max:205, interval:50, position:'top',
    axisLine:axLine, axisTick:tick, splitLine:{show:false}, axisLabel:{show:false}});
  yAxis.push({type:'value', gridIndex:i, min:0, max:1, interval:0.2, position:'left',
    axisLine:axLine, axisTick:tick, splitLine:split,
    axisLabel:{color:'#000', fontSize:tickFs, fontFamily:FONT, margin:5,
      formatter: v => { const t = yTicks.find(k => Math.abs(k - v) < 1e-9); return t === undefined ? '' : String(t); }},
    name:'{m|Δd}{s|z}{m| [m]}', nameLocation:'middle', nameRotate:90, nameGap:i===2?40:48,
    nameTextStyle:{rich:{m:{fontSize:titleFs, fontFamily:FONT, color:'#000'},
      s:{fontSize:Math.round(titleFs*0.65), fontFamily:FONT, color:'#000', padding:[Math.round(16*s),0,0,0]}}}});
  yAxis.push({type:'value', gridIndex:i, min:0, max:1, interval:0.2, position:'right',
    axisLine:axLine, axisTick:tick, splitLine:{show:false}, axisLabel:{show:false}});

  const names = seriesSuffix.map(t => panelTags[i] + ': ' + t);
  const xi = i*2, yi = i*2;
  series.push({type:'scatter', name:names[0], xAxisIndex:xi, yAxisIndex:yi, data:[].concat(...p.loco.map(pts)),
    symbol:'circle', symbolSize:i===2?8.5:10, large:false,
    itemStyle:{color:RED, borderColor:RED_EDGE, borderWidth:1.3, opacity:1,
      shadowBlur:3, shadowColor:'rgba(20,0,0,0.6)'}});
  series.push({type:'scatter', name:names[1], xAxisIndex:xi, yAxisIndex:yi, data:[].concat(...p.coach.map(pts)),
    symbol:'rect', symbolSize:i===2?7:8.5, large:false,
    itemStyle:{color:BLUE, borderColor:BLUE_EDGE, borderWidth:1.2, opacity:1,
      shadowBlur:3, shadowColor:'rgba(0,10,20,0.6)'}});
  series.push({type:'line', name:names[2], xAxisIndex:xi, yAxisIndex:yi, data:p.lf, symbol:'none', showSymbol:false,
    lineStyle:{color:RED_LINE, width:2*s, type:[2,1.5]}, itemStyle:{color:RED_LINE}, z:5});
  series.push({type:'line', name:names[3], xAxisIndex:xi, yAxisIndex:yi, data:p.cf, symbol:'none', showSymbol:false,
    lineStyle:{color:NAVY_LINE, width:2*s, type:[2,1.5]}, itemStyle:{color:NAVY_LINE}, z:5});

  const legFs = i === 2 ? 15 : 18;
  const hidden = {color:'rgba(0,0,0,0)', borderColor:'rgba(0,0,0,0)', borderWidth:0};
  legend.push({
    data:[
      {name:names[0], icon:'circle', itemStyle:{color:RED, borderColor:RED_EDGE, borderWidth:0.8, shadowBlur:0}},
      {name:names[1], icon:'path://M0,0H10V10H0Z', itemStyle:{color:BLUE, borderColor:BLUE_EDGE, borderWidth:0.8, shadowBlur:0}},
      {name:names[2], itemStyle:hidden},
      {name:names[3], itemStyle:hidden}
    ],
    orient:'vertical', left:p.leg.left, top:p.leg.top,
    itemWidth:i===2?28:33, itemHeight:i===2?7:8, itemGap:i===2?3.5:3.4,
    padding:i===2?[2,4,4,5]:[4,4,5,7], symbolKeepAspect:true,
    borderColor:'#8c8c8c', borderWidth:1, backgroundColor:'#fff',
    textStyle:{color:'#000', fontSize:legFs, lineHeight:legFs, fontFamily:FONT},
    selectedMode:false});

  // exponent label and panel letter
  const gx = p.g.left, gy = p.g.top, gw = p.g.width;
  graphic.push({type:'text', left:gx + 0.5, top:gy - 22*s, style:{text:'x 10', fontSize:20*s, fontFamily:FONT, fill:'#000'}});
  graphic.push({type:'text', left:gx + 44*s, top:gy - 30*s, style:{text:'-3', fontSize:14*s, fontFamily:FONT, fill:'#000'}});
  graphic.push({type:'text', left:gx + gw - 61*s, top:gy + 49*s, style:{text:panelLetters[i], fontSize:22*s, fontFamily:FONT, fill:'#000'}});
});

const chart = echarts.init(document.getElementById('c'), null, {renderer:'canvas'});
chart.setOption({
  animation:false, backgroundColor:'#fff', textStyle:{fontFamily:FONT},
  grid, xAxis, yAxis, series, legend, graphic
});
</script></body></html>
